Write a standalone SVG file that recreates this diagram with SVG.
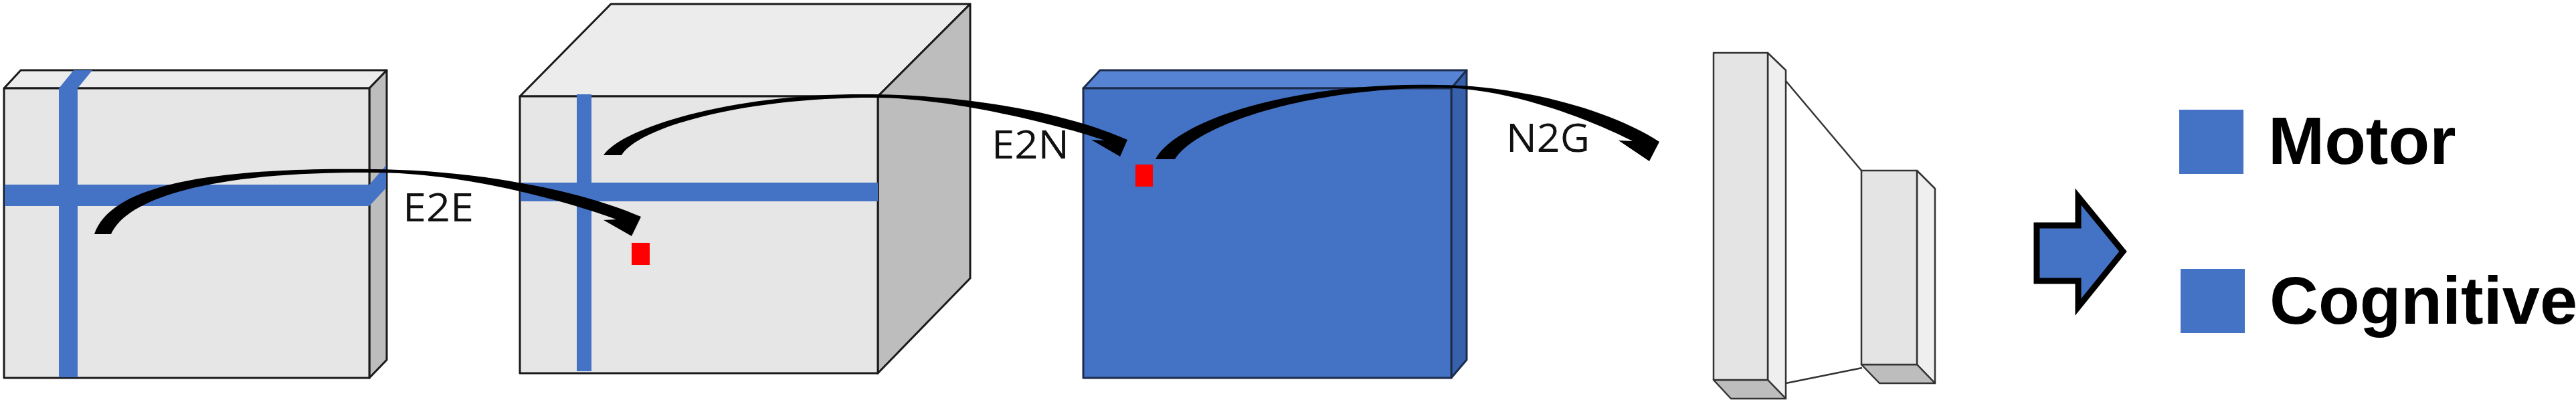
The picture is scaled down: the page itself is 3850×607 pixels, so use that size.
<svg xmlns="http://www.w3.org/2000/svg" width="3850" height="607" viewBox="0 0 3850 607">
<style>
.gf{fill:#e6e6e6;stroke:#1a1a1a;stroke-width:3;stroke-linejoin:round}
.gt{fill:#ececec;stroke:#1a1a1a;stroke-width:3;stroke-linejoin:round}
.gs{fill:#bdbdbd;stroke:#1a1a1a;stroke-width:3;stroke-linejoin:round}
.bar{fill:#4472c4}
.bf{fill:#4472c4;stroke:#1c2c4c;stroke-width:3;stroke-linejoin:round}
.bt{fill:#5683d3;stroke:#1c2c4c;stroke-width:3;stroke-linejoin:round}
.bs{fill:#3861ab;stroke:#1c2c4c;stroke-width:3;stroke-linejoin:round}
.red{fill:#ff0000}
.sf{fill:#e4e4e4;stroke:#333;stroke-width:2.5;stroke-linejoin:round}
.sr{fill:#efefef;stroke:#333;stroke-width:2.5;stroke-linejoin:round}
.sb{fill:#bdbdbd;stroke:#333;stroke-width:2.5;stroke-linejoin:round}
.ln{stroke:#333;stroke-width:2.5;fill:none}
.arr{fill:#000}
.lbl{font-family:"Open Sans","DejaVu Sans",sans-serif;font-size:58px;fill:#111}
.leg{font-family:"Liberation Sans",Arial,sans-serif;font-weight:bold;font-size:101px;fill:#000}
</style>
<rect width="3850" height="607" fill="#fff"/>

<g id="box-e2e">
<polygon class="gt" points="6,132 31,105 578,105 552,132"/>
<polygon class="gs" points="552,132 578,105 578,538 552,565"/>
<rect class="gf" x="6" y="132" width="546" height="433"/>
<polygon class="bar" points="88,132 116,132 138,105 110,105"/>
<rect class="bar" x="88" y="132" width="28" height="432"/>
<rect class="bar" x="7" y="276" width="545" height="32"/>
<polygon class="bar" points="552,276 577,247 577,281 552,308"/>
</g>

<g id="box-e2n">
<polygon class="gt" points="777,144 913,6 1450,6 1312,144"/>
<polygon class="gs" points="1312,144 1450,6 1450,416 1312,558"/>
<rect class="gf" x="777" y="144" width="535" height="414"/>
<rect class="bar" x="862" y="141" width="22" height="414"/>
<rect class="bar" x="778" y="273" width="534" height="28"/>
<rect class="red" x="944" y="363" width="27" height="33"/>
</g>

<g id="box-n2g">
<polygon class="bt" points="1619,132 1644,105 2192,105 2169,132"/>
<polygon class="bs" points="2169,132 2192,105 2192,538 2169,565"/>
<rect class="bf" x="1619" y="132" width="550" height="433"/>
<rect class="red" x="1697" y="246" width="26" height="33"/>
</g>

<g id="graph-net">
<line class="ln" x1="2669" y1="121" x2="2782" y2="255"/>
<line class="ln" x1="2669" y1="573" x2="2783" y2="550"/>
<polygon class="sr" points="2642,79 2669,105 2669,596 2642,568"/>
<polygon class="sb" points="2561,568 2642,568 2669,596 2587,596"/>
<rect class="sf" x="2561" y="79" width="81" height="489"/>
<polygon class="sr" points="2865,255 2892,282 2892,573 2865,545"/>
<polygon class="sb" points="2782,545 2865,545 2892,573 2809,573"/>
<rect class="sf" x="2782" y="255" width="83" height="290"/>
</g>

<g id="connectors">
<path class="arr" d="M141,350 C165,280 300,250 558,253 C700,254 860,281 958,324 L944,353 L902,329 L921,328 C860,305 700,258 558,258 C320,256 190,295 166,350 Z"/>
<path class="arr" d="M902,232 C930,190 1100,138 1305,141 C1420,142 1580,162 1685,209 L1674,234 L1631,209 L1651,210 C1580,186 1420,146 1305,146 C1110,146 955,190 929,232 Z"/>
<path class="arr" d="M1727,238 C1755,182 1930,122 2149,127 C2260,127 2400,160 2480,212 L2465,241 L2419,210 L2440,211 C2385,183 2260,131 2149,131 C1940,133 1785,190 1756,238 Z"/>
<polygon id="out-arrow" points="3044,337 3106,337 3106,294 3173,376 3106,459 3106,420 3044,420" fill="#4472c4" stroke="#000" stroke-width="9" stroke-linejoin="miter"/>
</g>

<g id="labels">
<text class="lbl" x="602" y="331" textLength="106" lengthAdjust="spacingAndGlyphs">E2E</text>
<text class="lbl" x="1482" y="237" textLength="116" lengthAdjust="spacingAndGlyphs">E2N</text>
<text class="lbl" x="2251" y="227" textLength="125" lengthAdjust="spacingAndGlyphs">N2G</text>
</g>

<g id="legend-motor">
<rect class="bar" x="3257" y="164" width="96" height="96"/>
<text class="leg" x="3390" y="245">Motor</text>
</g>
<g id="legend-cognitive">
<rect class="bar" x="3259" y="402" width="96" height="96"/>
<text class="leg" x="3392" y="484">Cognitive</text>
</g>
</svg>
